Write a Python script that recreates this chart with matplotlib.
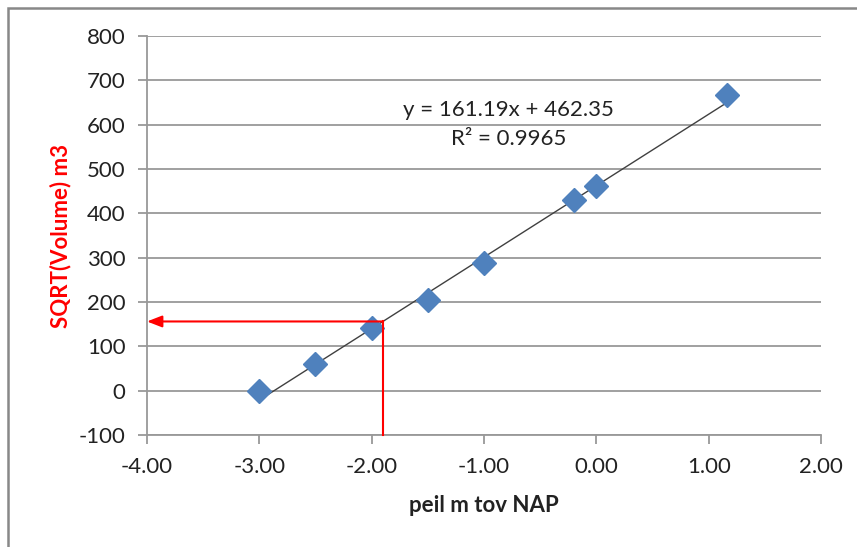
import matplotlib
matplotlib.use("Agg")
import matplotlib.pyplot as plt
import numpy as np
from matplotlib.patches import Rectangle

# Data
peil = [-3.0, -2.5, -2.0, -1.5, -1.0, -0.2, 0.0, 1.16]
sqrt_vol = [0, 60, 141, 204, 287, 429, 462, 666]
slope, intercept = 161.19, 462.35
eq_text = "y = 161.19x + 462.35"
r2_text = "R² = 0.9965"
read_x = -1.9
xticks = [-4, -3, -2, -1, 0, 1, 2]
yticks = [-100, 0, 100, 200, 300, 400, 500, 600, 700, 800]

plt.rcParams['font.family'] = ['Lato', 'DejaVu Sans']

W, H = 857, 547
fig = plt.figure(figsize=(W/100, H/100), dpi=100)
ax = fig.add_axes([147/W, 1-435/H, (821-147)/W, (435-36)/H])

# outer border
fig.patches.append(Rectangle((8/W, -0.01), 1.1, 1-8/H+0.01, transform=fig.transFigure,
                             fill=False, edgecolor='#888888', linewidth=1.8))

ax.set_xlim(-4, 2)
ax.set_ylim(-100, 800)
ax.set_xticks(xticks)
ax.set_yticks(yticks)
ax.set_xticklabels([f"{v:.2f}" for v in xticks])
ax.set_yticklabels([str(v) for v in yticks])
ax.yaxis.grid(True, color='#999999', linewidth=1.3)
ax.set_axisbelow(True)
for s in ['top', 'right']:
    ax.spines[s].set_visible(False)
for s in ['left', 'bottom']:
    ax.spines[s].set_color('#999999')
    ax.spines[s].set_linewidth(1.3)
ax.tick_params(axis='both', direction='out', length=6.5, width=1.3, color='#999999',
               labelsize=16, labelcolor='#222222')
ax.tick_params(axis='x', pad=9)
ax.tick_params(axis='y', pad=9)

# trend line
xl = np.array([min(peil), max(peil)])
ax.plot(xl, slope*xl + intercept, color='#404040', linewidth=1.0, zorder=3)
ax.plot(peil, sqrt_vol, linestyle='none', marker='D', markersize=12,
        color='#4F81BD', markeredgecolor='#4F81BD', zorder=4)

# red reading lines
yr = slope*read_x + intercept
ax.plot([read_x, read_x], [-100, yr], color='#FF0000', linewidth=1.5, zorder=5, clip_on=False)
ax.annotate('', xy=(-4, yr), xytext=(read_x, yr),
            arrowprops=dict(arrowstyle='-|>,head_length=0.9,head_width=0.35', color='#FF0000',
                            lw=1.5, shrinkA=0, shrinkB=0), zorder=5)

ax.text(-0.78, 633, eq_text, ha='center', va='center', fontsize=16, color='#222222')
ax.text(-0.78, 567, r2_text, ha='center', va='center', fontsize=16, color='#222222')

ax.set_xlabel('peil m tov NAP', fontsize=16, fontweight='bold', color='#222222', labelpad=13)
ax.set_ylabel('SQRT(Volume) m3', fontsize=16, fontweight='bold', color='#FF0000', labelpad=5)

fig.savefig('out.png', dpi=100)
